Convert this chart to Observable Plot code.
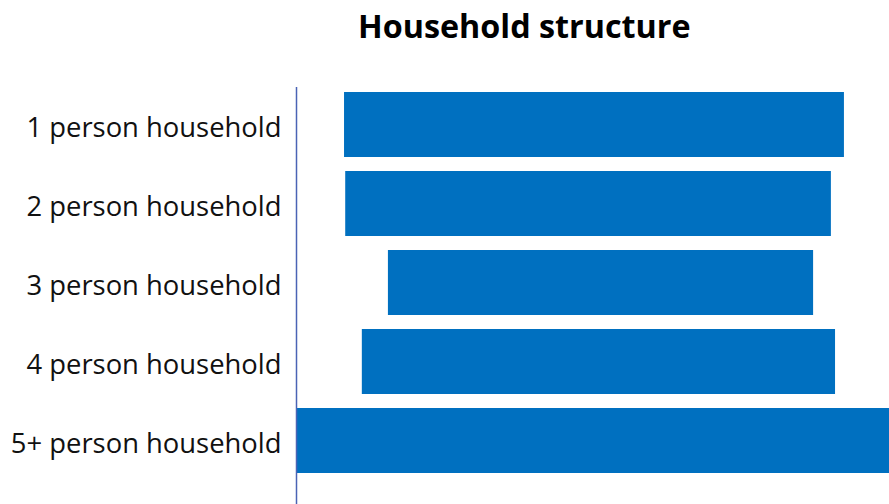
<!DOCTYPE html>
<html>
<head>
<meta charset="utf-8">
<script src="https://cdn.jsdelivr.net/npm/d3@7"></script>
<script src="https://cdn.jsdelivr.net/npm/@observablehq/plot@0.6"></script>
<style>
  html, body { margin: 0; padding: 0; background: #fff; }
  #title { position: relative; height: 87px; width: 889px; font-family: "Open Sans", sans-serif; font-weight: 700; font-size: 32.3px; color: #000; }
  #title span { position: absolute; left: 358px; top: 3px; white-space: nowrap; }
</style>
</head>
<body>
<div id="title"><span>Household structure</span></div>
<div id="chart"></div>
<script>
const categories = ["1 person household", "2 person household", "3 person household", "4 person household", "5+ person household"];
const startValues = [8.1, 8.3, 15.5, 11.1, 0];
const endValues = [92.4, 90.2, 87.2, 90.9, 100];

const data = categories.map((c, i) => ({category: c, start: startValues[i], end: endValues[i]}));

const W = 889, H = 417, mTop = 4, mBottom = 31;
const chart = Plot.plot({
  width: W,
  height: H,
  marginLeft: 296,
  marginRight: 0,
  marginTop: mTop,
  marginBottom: mBottom,
  style: {fontFamily: "'Open Sans', sans-serif", fontSize: "27.4px", color: "#000", background: "#fff"},
  x: {domain: [0, 100], axis: null},
  y: {domain: categories, paddingInner: 0.18, paddingOuter: 0, label: null, axis: null},
  marks: [
    Plot.barX(data, {y: "category", x1: "start", x2: "end", fill: "#0070C0"}),
    Plot.axisY({tickSize: 0, tickPadding: 15, label: null, dy: 3, fontSize: 27.4, fill: "#111"}),
    Plot.ruleX([0], {stroke: "#4a63b5", strokeWidth: 1.5, insetTop: -mTop, insetBottom: -mBottom})
  ]
});
document.getElementById("chart").appendChild(chart);
</script>
</body>
</html>
